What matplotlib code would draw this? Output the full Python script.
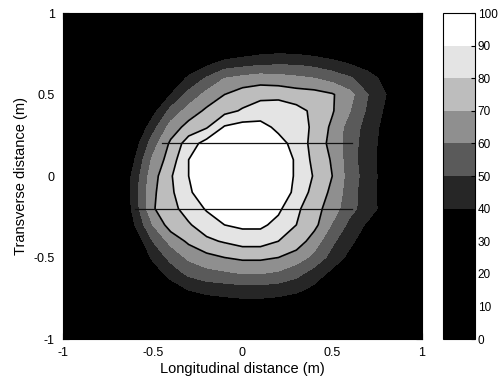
import matplotlib
matplotlib.use("Agg")
import matplotlib.pyplot as plt, numpy as np
from matplotlib.colors import ListedColormap, BoundaryNorm

plt.rcParams['font.family'] = ['Liberation Sans', 'DejaVu Sans']
plt.rcParams['axes.unicode_minus'] = False

# grid positions (m)
x_pos = [-1.0, -0.9, -0.8, -0.7, -0.6, -0.5, -0.4, -0.3, -0.2, -0.1, 0.0,
         0.1, 0.2, 0.3, 0.4, 0.5, 0.6, 0.7, 0.8, 0.9, 1.0]
y_pos = [1.0, 0.9, 0.8, 0.7, 0.6, 0.5, 0.4, 0.3, 0.2, 0.1, 0.0,
         -0.1, -0.2, -0.3, -0.4, -0.5, -0.6, -0.7, -0.8, -0.9, -1.0]

# values, one row per y_pos (top to bottom)
intensity = [
  [0, 0, 1, 1, 2, 3, 4, 5, 7, 8, 9, 10, 11, 10, 9, 8, 7, 6, 5, 3, 2],
  [0, 1, 1, 2, 3, 5, 7, 10, 13, 15, 17, 19, 20, 19, 18, 16, 14, 12, 9, 6, 3],
  [0, 1, 2, 4, 6, 9, 13, 18, 22, 26, 30, 32, 33, 32, 30, 27, 24, 20, 16, 10, 5],
  [1, 2, 3, 5, 9, 14, 22, 30, 36, 42, 44, 46, 47, 47, 45, 42, 38, 33, 27, 18, 8],
  [1, 2, 4, 7, 12, 20, 30, 42, 51, 60, 63, 65, 64, 62, 60, 56, 51, 45, 36, 22, 10],
  [1, 2, 5, 9, 16, 28, 40, 53, 63, 70, 75, 77, 77, 75, 74, 71, 63, 50, 40, 24, 10],
  [1, 3, 6, 11, 20, 36, 53, 64, 72, 77, 81, 85, 86, 83, 78, 71, 60, 48, 38, 22, 10],
  [2, 4, 8, 15, 28, 46, 64, 74, 79, 91, 94, 93, 88, 85, 78, 68, 55, 46, 36, 20, 10],
  [2, 5, 10, 20, 35, 55, 72, 85, 94, 97, 98, 97, 93, 87, 76, 67, 54, 45, 35, 20, 10],
  [3, 7, 14, 25, 40, 62, 75, 90, 95, 98, 99, 98, 95, 89, 77, 69, 54, 44, 35, 20, 10],
  [3, 8, 15, 25, 44, 66, 79, 90, 95, 98, 100, 99, 95, 89, 79, 70, 55, 45, 35, 20, 10],
  [3, 7, 13, 22, 46, 68, 78, 89, 94, 97, 98, 98, 95, 88, 76, 68, 54, 44, 35, 20, 10],
  [3, 7, 13, 24, 44, 69, 77, 84, 91, 95, 96, 96, 92, 82, 74, 65, 53, 45, 35, 20, 10],
  [2, 6, 12, 24, 40, 60, 75, 79, 85, 90, 92, 92, 87, 80, 73, 59, 47, 38, 30, 18, 9],
  [2, 5, 10, 19, 32, 50, 63, 72, 78, 81, 84, 84, 80, 76, 65, 52, 42, 34, 26, 16, 8],
  [2, 5, 9, 15, 25, 42, 53, 62, 67, 70, 72, 72, 70, 65, 57, 46, 37, 30, 22, 14, 7],
  [2, 4, 7, 12, 20, 33, 44, 52, 56, 58, 60, 60, 58, 53, 45, 37, 30, 24, 18, 11, 6],
  [1, 3, 5, 9, 15, 24, 33, 40, 43, 44, 45, 45, 44, 42, 37, 30, 24, 19, 14, 9, 5],
  [1, 2, 3, 6, 10, 16, 22, 28, 32, 34, 35, 35, 34, 31, 27, 22, 18, 14, 10, 6, 3],
  [0, 1, 2, 3, 5, 9, 13, 17, 20, 22, 23, 23, 22, 20, 17, 14, 11, 8, 6, 4, 2],
  [0, 0, 1, 2, 3, 5, 7, 9, 11, 12, 13, 13, 12, 11, 9, 7, 6, 4, 3, 2, 1],
]

levels = [0, 10, 20, 30, 40, 50, 60, 70, 80, 90, 100]
line_levels = [70, 80, 90]
band_colors = ['#000000', '#000000', '#000000', '#000000', '#262626',
               '#5a5a5a', '#8f8f8f', '#bdbdbd', '#e4e4e4', '#ffffff']

# the two horizontal lines (y, x start, x end)
line_y = [0.2, -0.2]
line_x0 = [-0.45, -0.6]
line_x1 = [0.61, 0.61]

ticks = [-1, -0.5, 0, 0.5, 1]
tick_labels = ['-1', '-0.5', '0', '0.5', '1']

cmap = ListedColormap(band_colors)
norm = BoundaryNorm(levels, cmap.N)

fig = plt.figure(figsize=(5.04, 3.81), dpi=100)
ax = fig.add_axes([0.125, 0.1102, 0.7123, 0.8556])
cax = fig.add_axes([0.879, 0.1102, 0.0635, 0.8556])

X, Y = np.meshgrid(x_pos, y_pos)
Z = np.array(intensity, dtype=float)
cf = ax.contourf(X, Y, Z, levels=levels, cmap=cmap, norm=norm)
ax.contour(X, Y, Z, levels=line_levels, colors='k', linewidths=1.2)
for yy, a, b in zip(line_y, line_x0, line_x1):
  ax.plot([a, b], [yy, yy], color='#111111', lw=0.9)

ax.set_xlim(-1, 1)
ax.set_ylim(-1, 1)
ax.set_xticks(ticks)
ax.set_xticklabels(tick_labels)
ax.set_yticks(ticks)
ax.set_yticklabels(tick_labels)
ax.tick_params(direction='in', length=4, labelsize=9, pad=6, top=True, right=True)
ax.set_xlabel('Longitudinal distance (m)', fontsize=10.5, labelpad=2)
ax.set_ylabel('Transverse distance (m)', fontsize=10.5, labelpad=4)

cb = fig.colorbar(cf, cax=cax, ticks=levels)
cb.ax.tick_params(direction='in', length=3, labelsize=8.5, pad=2)
cb.outline.set_linewidth(0.8)

fig.savefig('out.png', dpi=100)
